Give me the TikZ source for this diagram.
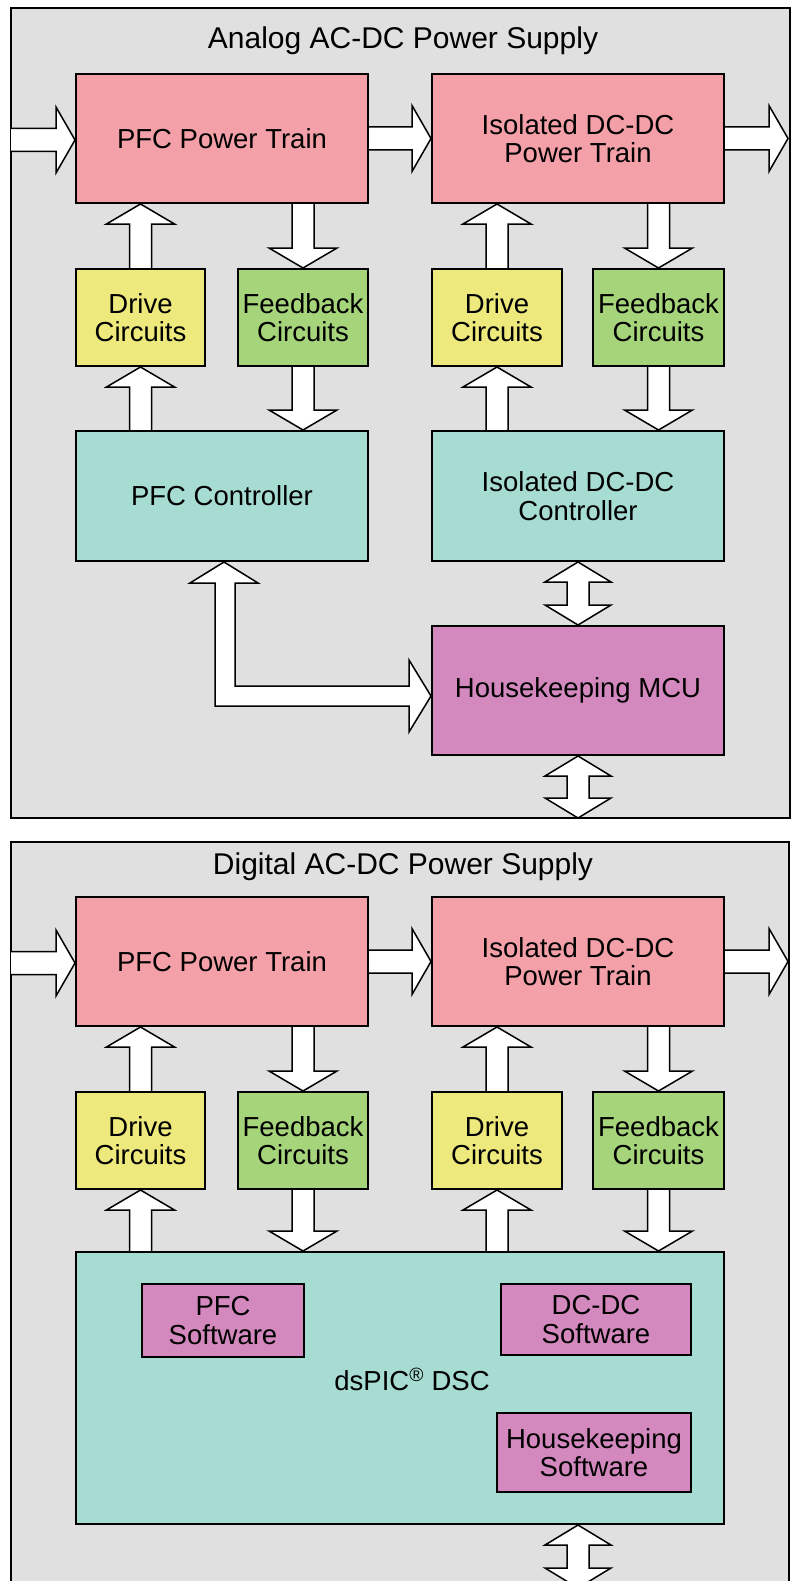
\documentclass[tikz,border=0pt]{standalone}
\usepackage{fontspec}
\setmainfont{Liberation Sans}
\usetikzlibrary{calc}
\definecolor{mPanel}{HTML}{E0E0E0}
\definecolor{mPink}{HTML}{F4A0A9}
\definecolor{mYellow}{HTML}{EDE97C}
\definecolor{mGreen}{HTML}{A5D47B}
\definecolor{mTeal}{HTML}{A7DCD3}
\definecolor{mMagenta}{HTML}{D388BE}
\pgfdeclarelayer{back}
\pgfdeclarelayer{mid}
\pgfsetlayers{back,mid,main}
\tikzset{
  blk/.style={draw, line width=2pt, inner sep=1pt, align=center,
    font=\fontsize{27.5}{28.5}\selectfont},
  ttl/.style={font=\fontsize{30}{32}\selectfont},
  panel/.style={draw, fill=mPanel, line width=2pt},
  fat/.style={draw, fill=white, line width=1.5pt, line join=miter},
}
% fat arrows; the x (or y) of the shaft is taken from the first point
\newcommand{\fatup}[2]{\draw[fat] let \p1=(#1), \p2=(#2) in
  (\x1-11pt,\y1) -- (\x1-11pt,\y2-20pt) -- (\x1-34pt,\y2-20pt) -- (\x1,\y2)
  -- (\x1+34pt,\y2-20pt) -- (\x1+11pt,\y2-20pt) -- (\x1+11pt,\y1);}
\newcommand{\fatdown}[2]{\draw[fat] let \p1=(#1), \p2=(#2) in
  (\x1-11pt,\y1) -- (\x1-11pt,\y2+20pt) -- (\x1-34pt,\y2+20pt) -- (\x1,\y2)
  -- (\x1+34pt,\y2+20pt) -- (\x1+11pt,\y2+20pt) -- (\x1+11pt,\y1);}
\newcommand{\fatright}[2]{\draw[fat] let \p1=(#1), \p2=(#2) in
  (\x1,\y1+11.5pt) -- (\x2-19pt,\y1+11.5pt) -- (\x2-19pt,\y1+33pt) -- (\x2,\y1)
  -- (\x2-19pt,\y1-33pt) -- (\x2-19pt,\y1-11.5pt) -- (\x1,\y1-11.5pt);}
\newcommand{\fatupdown}[2]{\draw[fat] let \p1=(#1), \p2=(#2) in
  (\x1-11pt,\y1-20pt) -- (\x1-33pt,\y1-20pt) -- (\x1,\y1) -- (\x1+33pt,\y1-20pt)
  -- (\x1+11pt,\y1-20pt) -- (\x1+11pt,\y2+20pt) -- (\x1+33pt,\y2+20pt) -- (\x1,\y2)
  -- (\x1-33pt,\y2+20pt) -- (\x1-11pt,\y2+20pt) -- cycle;}

\begin{document}
\begin{tikzpicture}[x=1pt, y=-1pt]
  \useasboundingbox (0,0) rectangle (798,1581);
  \begin{pgfonlayer}{back}
    \fill[white] (0,0) rectangle (798,1581);
    \draw[panel] (11,8) rectangle (790,818);
    \draw[panel] (11,842) rectangle (789,1620);
  \end{pgfonlayer}
  \node[ttl] (ttla) at (403,41) {Analog AC-DC Power Supply};
  \node[ttl] (ttld) at (403,867) {Digital AC-DC Power Supply};

  % power trains, drive and feedback: same in both panels
  \foreach \s/\dy in {a/0, d/823} {
    \node[blk, fill=mPink, minimum width=292, minimum height=129] (pfcpt\s) at (222,138.5+\dy) {PFC Power Train};
    \node[blk, fill=mPink, minimum width=292, minimum height=129] (dcpt\s) at (578,138.5+\dy) {Isolated DC-DC\\Power Train};
    \node[blk, fill=mYellow, minimum width=129, minimum height=97] (drv1\s) at (140.5,317.5+\dy) {Drive\\Circuits};
    \node[blk, fill=mGreen, minimum width=130, minimum height=97] (fb1\s) at (303,317.5+\dy) {Feedback\\Circuits};
    \node[blk, fill=mYellow, minimum width=130, minimum height=97] (drv2\s) at (497,317.5+\dy) {Drive\\Circuits};
    \node[blk, fill=mGreen, minimum width=131, minimum height=97] (fb2\s) at (658.5,317.5+\dy) {Feedback\\Circuits};
    \coordinate (in\s) at (11,140+\dy);
    \coordinate (out\s) at (788,140+\dy);
    \begin{pgfonlayer}{mid}
      \fatright{in\s}{pfcpt\s.west}
      \fatright{pfcpt\s.east}{dcpt\s.west}
      \fatright{dcpt\s.east}{out\s}
      \fatup{drv1\s.north}{pfcpt\s.south}
      \fatdown{fb1\s.north |- pfcpt\s.south}{fb1\s.north}
      \fatup{drv2\s.north}{dcpt\s.south}
      \fatdown{fb2\s.north |- dcpt\s.south}{fb2\s.north}
    \end{pgfonlayer}
  }

  % analog panel
  \node[blk, fill=mTeal, minimum width=292, minimum height=130] (pfcctl) at (222,496) {PFC Controller};
  \node[blk, fill=mTeal, minimum width=292, minimum height=130] (dcctl) at (578,496) {Isolated DC-DC\\Controller};
  \node[blk, fill=mMagenta, minimum width=292, minimum height=129] (mcu) at (578,690.5) {Housekeeping MCU};
  \coordinate (mcubot) at (578,818);
  \begin{pgfonlayer}{mid}
    \fatup{drv1a.south |- pfcctl.north}{drv1a.south}
    \fatdown{fb1a.south}{pfcctl.north}
    \fatup{drv2a.south |- dcctl.north}{drv2a.south}
    \fatdown{fb2a.south}{dcctl.north}
    \fatupdown{dcctl.south}{mcu.north}
    \fatupdown{mcu.south}{mcubot}
    \draw[fat] let \p1=(pfcctl.south), \p2=(mcu.west) in
      (\x1+2pt,\y1) -- (\x1+36pt,\y1-21pt) -- (\x1+13pt,\y1-21pt) -- (\x1+13pt,\y2+4.5pt)
      -- (\x2-22pt,\y2+4.5pt) -- (\x2-22pt,\y2+30.5pt) -- (\x2,\y2-5.5pt)
      -- (\x2-22pt,\y2-41.5pt) -- (\x2-22pt,\y2-15.5pt) -- (\x1-7pt,\y2-15.5pt)
      -- (\x1-7pt,\y1-21pt) -- (\x1-32pt,\y1-21pt) -- cycle;
  \end{pgfonlayer}

  % digital panel
  \node[blk, fill=mTeal, minimum width=648, minimum height=272] (dsp) at (400,1388) {};
  \node[font=\fontsize{27.5}{28.5}\selectfont] (dsplbl) at (412,1379) {dsPIC\textsuperscript{\textregistered} DSC};
  \node[blk, fill=mMagenta, minimum width=162, minimum height=73] (pfcsw) at (223,1320.5) {PFC\\Software};
  \node[blk, fill=mMagenta, minimum width=190, minimum height=71] (dcsw) at (596,1319.5) {DC-DC\\Software};
  \node[blk, fill=mMagenta, minimum width=194, minimum height=79] (hksw) at (594,1452.5) {Housekeeping\\Software};
  \coordinate (dspbot) at (578,1588);
  \begin{pgfonlayer}{mid}
    \fatup{drv1d.south |- dsp.north}{drv1d.south}
    \fatdown{fb1d.south}{dsp.north}
    \fatup{drv2d.south |- dsp.north}{drv2d.south}
    \fatdown{fb2d.south}{dsp.north}
    \fatupdown{dspbot |- dsp.south}{dspbot}
  \end{pgfonlayer}
\end{tikzpicture}
\end{document}
